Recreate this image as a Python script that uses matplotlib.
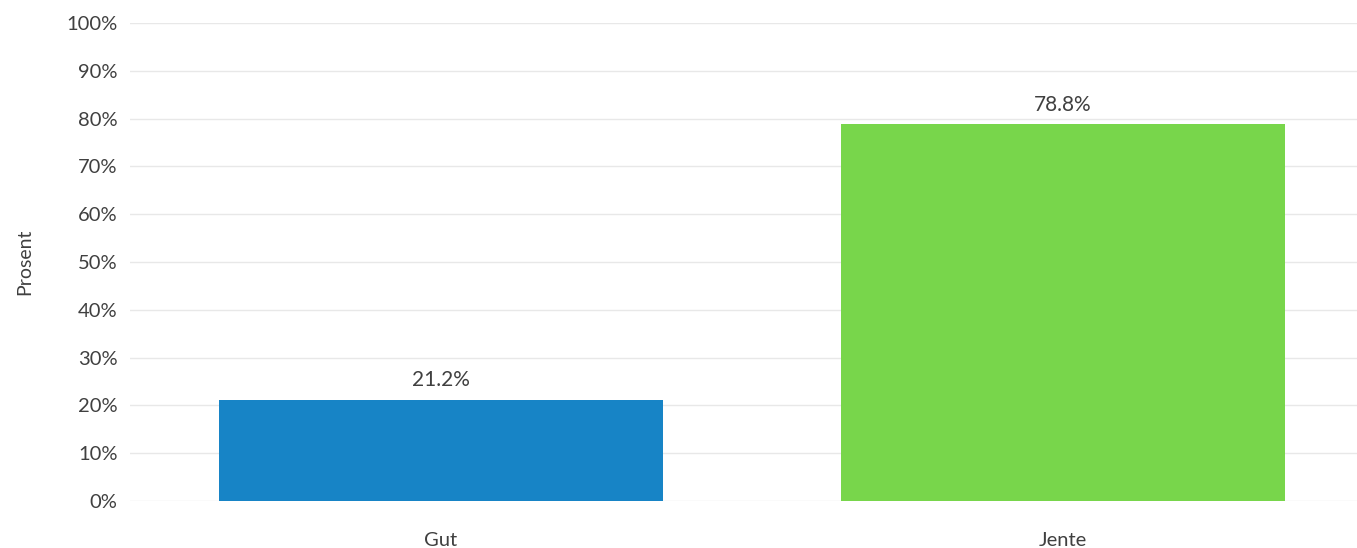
import matplotlib
matplotlib.use('Agg')
import matplotlib.pyplot as plt
from matplotlib.ticker import PercentFormatter

categories = ['Gut', 'Jente']
values = [21.2, 78.8]
colors = ['#1784C6', '#78D64B']

plt.rcParams['font.family'] = ['Lato', 'DejaVu Sans']

fig = plt.figure(figsize=(13.57, 5.48), dpi=100)
ax = fig.add_axes([130 / 1357, 47 / 548, 1 - 130 / 1357, 478 / 548])

x = range(len(categories))
bars = ax.bar(x, values, width=0.715, color=colors, zorder=2)
for b, v in zip(bars, values):
    ax.text(b.get_x() + b.get_width() / 2, v + 2, f'{v:.1f}%',
            ha='center', va='bottom', fontsize=15, color='#404040')

ax.set_xlim(-0.5, 1.473)
ax.set_ylim(0, 100)
ax.set_yticks(range(0, 101, 10))
ax.yaxis.set_major_formatter(PercentFormatter(decimals=0))
ax.set_xticks(list(x))
ax.set_xticklabels(categories)
ax.grid(axis='y', color='#e8e8e8', linewidth=1, zorder=0)
for s in ax.spines.values():
    s.set_visible(False)
ax.tick_params(length=0, labelsize=14.5, labelcolor='#404040', pad=9)
ax.tick_params(axis='x', pad=22)
ax.set_ylabel('Prosent', fontsize=14, color='#404040', labelpad=24)

fig.savefig('out.png', dpi=100)
